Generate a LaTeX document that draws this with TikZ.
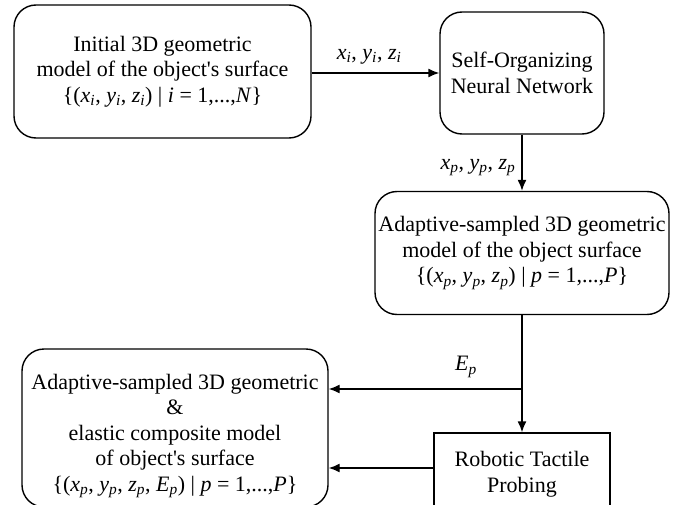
\documentclass[tikz,border=0pt]{standalone}
\usepackage{fontspec}
\setmainfont{Liberation Serif}
\usetikzlibrary{arrows.meta}
% italic variable with italic subscript
\newcommand{\vsub}[2]{\textit{#1}\textsubscript{\textit{#2}}}
\begin{document}
\begin{tikzpicture}[x=1pt,y=1pt,
  txt/.style={font=\fontsize{22}{25.5}\selectfont, align=center, inner sep=0pt},
  rbox/.style={txt, draw, line width=1.4pt, rounded corners=22pt},
  sbox/.style={txt, draw, line width=1.4pt},
  arr/.style={line width=1.4pt, -{Latex[length=11pt,width=9pt]}},
  lab/.style={font=\fontsize{22}{25.5}\selectfont, inner sep=0pt}]
\useasboundingbox (0,0) rectangle (674,-505);
\clip (0,0) rectangle (674,-505);

% boxes
\node[rbox, minimum width=297, minimum height=133] (init) at (162.5,-71.5)
  {Initial 3D geometric\\model of the object\textquotesingle s surface\\
   \{(\vsub{x}{i}, \vsub{y}{i}, \vsub{z}{i}) \textbar{} \textit{i} = 1,...,\textit{N}\}};
\node[rbox, minimum width=164, minimum height=122] (som) at (522,-73)
  {Self-Organizing\\Neural Network};
\node[rbox, minimum width=294, minimum height=123] (adapt) at (522,-253)
  {Adaptive-sampled 3D geometric\\model of the object surface\\
   \{(\vsub{x}{p}, \vsub{y}{p}, \vsub{z}{p}) \textbar{} \textit{p} = 1,...,\textit{P}\}};
\node[rbox, minimum width=306, minimum height=158] (comp) at (175,-428) {};
\node[txt] (comptext) at (175,-436)
  {Adaptive-sampled 3D geometric\\\&\\elastic composite model\\of object\textquotesingle s surface\\
   \{(\vsub{x}{p}, \vsub{y}{p}, \vsub{z}{p}, \vsub{E}{p}) \textbar{} \textit{p} = 1,...,\textit{P}\}};
\node[sbox, minimum width=176, minimum height=82] (probe) at (522,-474)
  {Robotic Tactile\\Probing};

% connectors
\draw[arr] (init.east |- som.west) -- node[lab, above=8pt, pos=0.45]
  {\vsub{x}{i}, \vsub{y}{i}, \vsub{z}{i}} (som.west);
\draw[arr] (som.south) -- node[lab, left=6pt, pos=0.58]
  {\vsub{x}{p}, \vsub{y}{p}, \vsub{z}{p}} (adapt.north);
\draw[arr] (adapt.south) -- (probe.north);
\coordinate (split) at (adapt.south |- 0,-389);
\draw[arr] (split) -- node[lab, above=11pt, pos=0.29] {\vsub{E}{p}} (split -| comp.east);
\draw[arr] ([yshift=6pt]probe.west) -- ([yshift=6pt]probe.west -| comp.east);
\end{tikzpicture}
\end{document}
